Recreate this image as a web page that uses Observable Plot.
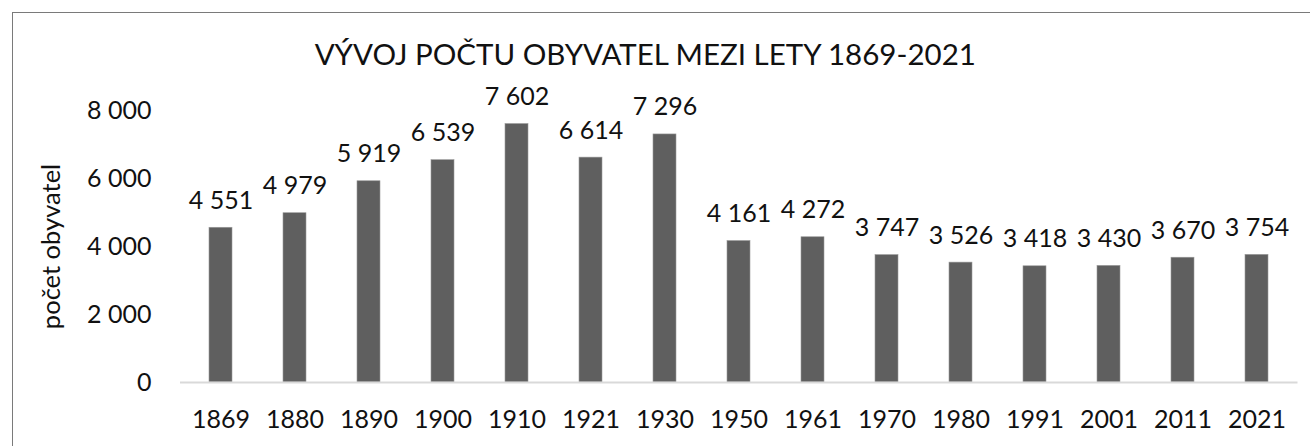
<!DOCTYPE html>
<html>
<head>
<meta charset="utf-8">
<script src="https://cdn.jsdelivr.net/npm/d3@7"></script>
<script src="https://cdn.jsdelivr.net/npm/@observablehq/plot@0.6"></script>
<style>
  html, body { margin: 0; padding: 0; background: #fff; }
  #wrap { position: relative; width: 1310px; height: 446px; overflow: hidden; }
  #frame { position: absolute; left: 12px; top: 12px; width: 1400px; height: 500px;
           border-left: 1px solid #7a7a7a; border-top: 1px solid #7a7a7a; pointer-events: none; }
</style>
</head>
<body>
<div id="wrap"><div id="frame"></div></div>
<script>
const years = ["1869","1880","1890","1900","1910","1921","1930","1950","1961","1970","1980","1991","2001","2011","2021"];
const population = [4551, 4979, 5919, 6539, 7602, 6614, 7296, 4161, 4272, 3747, 3526, 3418, 3430, 3670, 3754];
const yTicks = [0, 2000, 4000, 6000, 8000];
const title = "VÝVOJ POČTU OBYVATEL MEZI LETY 1869-2021";
const yLabel = "počet obyvatel";

const data = years.map((y, i) => ({year: y, value: population[i]}));
const loc = d3.formatLocale({decimal: ",", thousands: "\u00a0", grouping: [3], currency: ["", ""]});
const fmt = loc.format(",d");

const chart = Plot.plot({
  width: 1310,
  height: 446,
  marginLeft: 180,
  marginRight: 12.5,
  marginTop: 110,
  marginBottom: 64,
  style: {fontFamily: "Lato, 'Open Sans', sans-serif", fontSize: "25px", color: "#111", background: "transparent"},
  x: {domain: years, paddingInner: 0.69, paddingOuter: 0.345, label: null, tickSize: 0, tickPadding: 28},
  y: {domain: [0, 8000], ticks: yTicks, tickFormat: fmt, tickSize: 0, tickPadding: 29, label: null},
  marks: [
    Plot.barY(data, {x: "year", y: "value", fill: "#5f5f5f", stroke: "#9a9a9a", strokeWidth: 0.6}),
    Plot.ruleY([0], {stroke: "#d9d9d9", strokeWidth: 2}),
    Plot.text(data, {x: "year", y: "value", text: d => fmt(d.value), lineAnchor: "middle", dy: -27, fill: "#111", fontSize: 25}),
    Plot.text([yLabel], {frameAnchor: "left", textAnchor: "middle", rotate: -90, dx: -129, fontSize: 25.5, fill: "#111"}),
    Plot.text([title], {frameAnchor: "top", textAnchor: "middle", dy: -66, fontSize: 29.5, fill: "#111", dx: -94})
  ]
});
document.getElementById("wrap").prepend(chart);
</script>
</body>
</html>
